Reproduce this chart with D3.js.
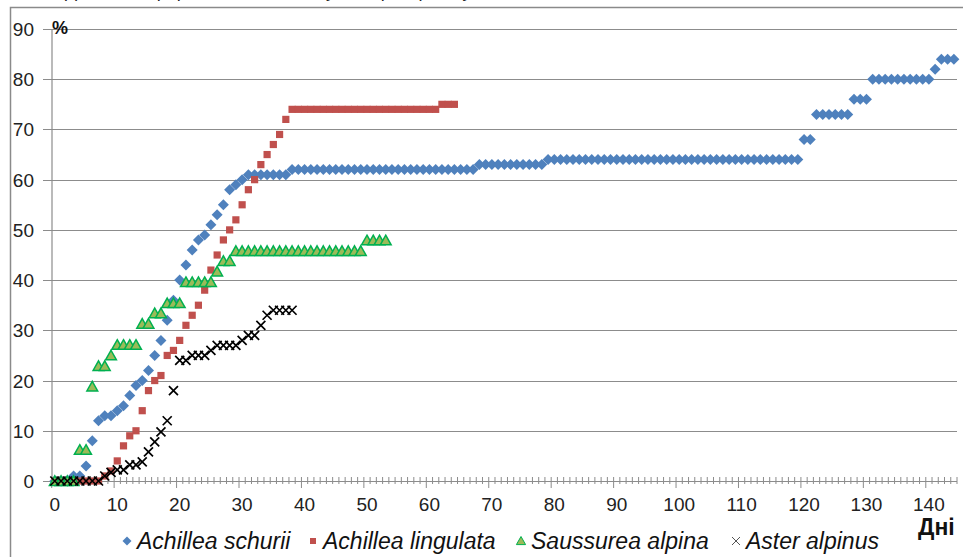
<!DOCTYPE html>
<html>
<head>
<meta charset="utf-8">
<script src="https://cdn.jsdelivr.net/npm/d3@7"></script>
<style>
body { margin: 0; background: #fff; }
svg { display: block; font-family: "Liberation Sans", Arial, sans-serif; }
</style>
</head>
<body>
<div class="grafico"></div>
<script>
// дні (категорії осі X) та частки пророслого насіння, %
var days = d3.range(145);
var xTicks = [0, 10, 20, 30, 40, 50, 60, 70, 80, 90, 100, 110, 120, 130, 140];
var yTicks = [0, 10, 20, 30, 40, 50, 60, 70, 80, 90];

var schurii = [0,0,0,1,1,3,8,12,13,13,14,15,17,19,20,22,25,28,32,36,
  40,43,46,48,49,51,53,55,58,59,60,61,61,61,61,61,61,61,
  62,62,62,62,62,62,62,62,62,62,62,62,62,62,62,62,62,62,62,62,62,62,62,62,62,62,62,62,62,62,
  63,63,63,63,63,63,63,63,63,63,63,
  64,64,64,64,64,64,64,64,64,64,64,64,64,64,64,64,64,64,64,64,64,64,64,64,64,64,64,64,64,64,64,64,64,64,64,64,64,64,64,64,64,
  68,68,73,73,73,73,73,73,76,76,76,80,80,80,80,80,80,80,80,80,80,82,84,84,84];
var lingulata = [0,0,0,0,0,0,0,0,1,2,4,7,9,10,14,18,20,21,25,26,28,31,33,35,38,42,45,48,50,52,
  55,58,60,63,65,67,69,72,
  74,74,74,74,74,74,74,74,74,74,74,74,74,74,74,74,74,74,74,74,74,74,74,74,75,75,75];
var saussurea = [0,0,0,0,6.2,6.2,18.8,22.9,22.9,25,27.1,27.1,27.1,27.1,31.3,31.3,33.4,33.4,35.4,35.4,35.4,
  39.6,39.6,39.6,39.6,39.6,41.7,43.8,43.8,
  45.8,45.8,45.8,45.8,45.8,45.8,45.8,45.8,45.8,45.8,45.8,45.8,45.8,45.8,45.8,45.8,45.8,45.8,45.8,45.8,45.8,
  47.9,47.9,47.9,47.9];
var aster = [0,0,0,0,0,0,0,0,1,1.7,2.2,2.2,3.2,3.2,3.8,5.8,7.8,9.8,12,18,
  24,24,25,25,25,26,27,27,27,27,28,29,29,31,33,34,34,34,34];

var seriesNames = ["Achillea schurii", "Achillea lingulata", "Saussurea alpina", "Aster alpinus"];

var w = 963, h = 557;
var svg = d3.select(".grafico")
  .append("svg")
  .attr("width", w)
  .attr("height", h)
  .style("background", "#fff");

var x = d3.scaleBand().domain(days).range([51.7, 957]);
var y = d3.scaleLinear().domain([0, 90]).range([481, 29]);
function cx(d) { return x(d) + x.bandwidth() / 2; }

// обрізаний підпис зверху
svg.append("text")
  .attr("x", 4).attr("y", -3)
  .attr("font-size", 18)
  .attr("fill", "#222")
  .text("Рис. 1. Динаміка проростання насіння у лабораторних умовах, %");

// рамка
svg.append("path")
  .attr("d", "M10.5,557V7.5H963")
  .attr("fill", "none")
  .attr("stroke", "#8a8a8a")
  .attr("stroke-width", 1.5);

// сітка
svg.selectAll(".grid")
  .data(yTicks)
  .enter()
  .append("line")
  .attr("x1", 43).attr("x2", 957)
  .attr("y1", function(d) { return Math.round(y(d)) + 0.5; })
  .attr("y2", function(d) { return Math.round(y(d)) + 0.5; })
  .attr("stroke", "#8c8c8c")
  .attr("stroke-width", 1.2);

svg.append("line")
  .attr("x1", 52).attr("x2", 52)
  .attr("y1", y(90)).attr("y2", y(0))
  .attr("stroke", "#8c8c8c")
  .attr("stroke-width", 1.2);

// підписи осі Y
svg.selectAll(".ylab")
  .data(yTicks)
  .enter()
  .append("text")
  .attr("x", 34)
  .attr("y", function(d) { return y(d) + 7; })
  .attr("text-anchor", "end")
  .attr("font-size", 19)
  .attr("fill", "#222")
  .text(function(d) { return d; });

// поділки осі X
var bounds = days.concat([145]);
svg.selectAll(".tick")
  .data(bounds)
  .enter()
  .append("line")
  .attr("x1", function(d) { return d < 145 ? x(d) : x(144) + x.bandwidth(); })
  .attr("x2", function(d) { return d < 145 ? x(d) : x(144) + x.bandwidth(); })
  .attr("y1", 477)
  .attr("y2", function(d) { return d % 10 == 0 ? 488 : 484; })
  .attr("stroke", "#8c8c8c")
  .attr("stroke-width", 1);

svg.selectAll(".xlab")
  .data(xTicks)
  .enter()
  .append("text")
  .attr("x", function(d) { return cx(d); })
  .attr("y", 511)
  .attr("text-anchor", "middle")
  .attr("font-size", 19)
  .attr("fill", "#222")
  .text(function(d) { return d; });

svg.append("text")
  .attr("x", 52).attr("y", 34)
  .attr("font-size", 18)
  .attr("font-weight", "bold")
  .attr("fill", "#111")
  .text("%");

svg.append("text")
  .attr("x", 918).attr("y", 535)
  .attr("font-size", 23)
  .attr("font-weight", "bold")
  .attr("fill", "#111")
  .text("Дні");

// маркери
var diamond = "M0,-5.5L5.5,0L0,5.5L-5.5,0Z";
var square = "M-3.6,-3.6H3.6V3.6H-3.6Z";
var triangle = "M0,-5.2L5.4,4.4H-5.4Z";
var cross = "M-4.5,-4.5L4.5,4.5M-4.5,4.5L4.5,-4.5";

function drawSeries(values, path, fill, stroke, sw) {
  svg.append("g")
    .selectAll("path")
    .data(values)
    .enter()
    .append("path")
    .attr("transform", function(d, i) { return "translate(" + cx(days[i]) + "," + y(d) + ")"; })
    .attr("d", path)
    .attr("fill", fill)
    .attr("stroke", stroke)
    .attr("stroke-width", sw);
}
drawSeries(schurii, diamond, "#4f81bd", "none", 0);
drawSeries(lingulata, square, "#c0504d", "none", 0);
drawSeries(saussurea, triangle, "#9bbb59", "#00b050", 1.5);
drawSeries(aster, cross, "none", "#000", 1.7);

// легенда
var legX = [127, 313, 521, 736];
var legMarks = [
  { d: "M0,-4.5L4.5,0L0,4.5L-4.5,0Z", fill: "#4f81bd", stroke: "none", sw: 0 },
  { d: "M-3,-3H3V3H-3Z", fill: "#c0504d", stroke: "none", sw: 0 },
  { d: "M0,-4.5L4.6,3.6H-4.6Z", fill: "#9bbb59", stroke: "#00b050", sw: 1 },
  { d: "M-4,-4L4,4M-4,4L4,-4", fill: "none", stroke: "#555", sw: 1 }
];
var leg = svg.selectAll(".leg")
  .data(seriesNames)
  .enter()
  .append("g")
  .attr("transform", function(d, i) { return "translate(" + legX[i] + ",541)"; });
leg.append("path")
  .attr("d", function(d, i) { return legMarks[i].d; })
  .attr("fill", function(d, i) { return legMarks[i].fill; })
  .attr("stroke", function(d, i) { return legMarks[i].stroke; })
  .attr("stroke-width", function(d, i) { return legMarks[i].sw; });
leg.append("text")
  .attr("x", 10)
  .attr("y", 8)
  .attr("font-size", 23)
  .attr("font-style", "italic")
  .attr("fill", "#111")
  .text(function(d) { return d; });
</script>
</body>
</html>
